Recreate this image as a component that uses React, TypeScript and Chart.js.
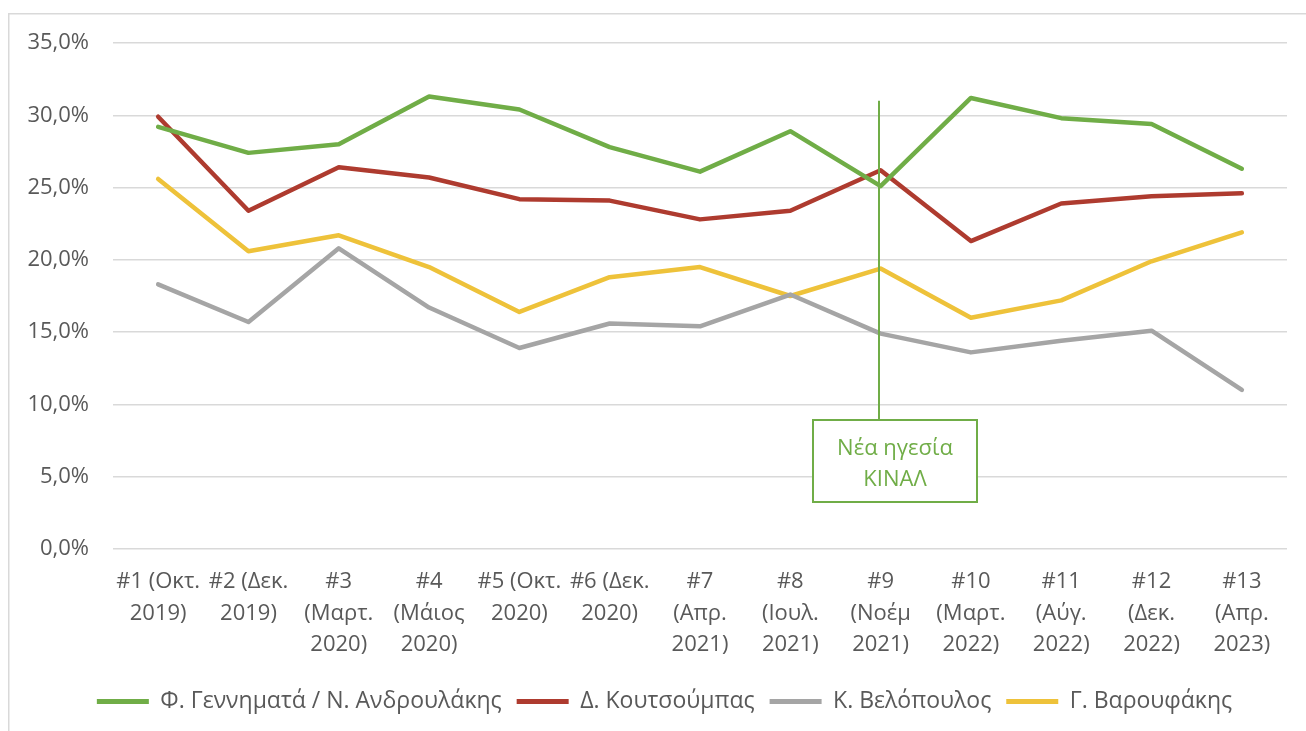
import React, { useEffect, useRef } from "react";
import { Chart, registerables } from "chart.js";

Chart.register(...registerables);

const categories: string[][] = [
  ["#1 (Οκτ.", "2019)"],
  ["#2 (Δεκ.", "2019)"],
  ["#3", "(Μαρτ.", "2020)"],
  ["#4", "(Μάιος", "2020)"],
  ["#5 (Οκτ.", "2020)"],
  ["#6 (Δεκ.", "2020)"],
  ["#7", "(Απρ.", "2021)"],
  ["#8", "(Ιουλ.", "2021)"],
  ["#9", "(Νοέμ", "2021)"],
  ["#10", "(Μαρτ.", "2022)"],
  ["#11", "(Αύγ.", "2022)"],
  ["#12", "(Δεκ.", "2022)"],
  ["#13", "(Απρ.", "2023)"],
];

const gennimataAndroulakis = [29.2, 27.4, 28.0, 31.3, 30.4, 27.8, 26.1, 28.9, 25.1, 31.2, 29.8, 29.4, 26.3];
const koutsoumpas = [29.9, 23.4, 26.4, 25.7, 24.2, 24.1, 22.8, 23.4, 26.2, 21.3, 23.9, 24.4, 24.6];
const velopoulos = [18.3, 15.7, 20.8, 16.7, 13.9, 15.6, 15.4, 17.6, 14.9, 13.6, 14.4, 15.1, 11.0];
const varoufakis = [25.6, 20.6, 21.7, 19.5, 16.4, 18.8, 19.5, 17.5, 19.4, 16.0, 17.2, 19.9, 21.9];

const seriesNames = [
  "Φ. Γεννηματά / Ν. Ανδρουλάκης",
  "Δ. Κουτσούμπας",
  "Κ. Βελόπουλος",
  "Γ. Βαρουφάκης",
];
const seriesColors = ["#70ad47", "#ae3b2f", "#a5a5a5", "#eec23a"];

const annotationIndex = 8;
const annotationTop = 31.0;
const annotationLines = ["Νέα ηγεσία", "ΚΙΝΑΛ"];

const FONT = "'Open Sans', 'Noto Sans', sans-serif";
const TEXT = "#595959";

export default function App() {
  const ref = useRef<HTMLCanvasElement | null>(null);

  useEffect(() => {
    if (!ref.current) return;
    const values = [gennimataAndroulakis, koutsoumpas, velopoulos, varoufakis];

    const borderPlugin = {
      id: "outerBorder",
      afterLayout(chart: any) {
        if (chart.legend) chart.legend.left += 42;
      },
      beforeDraw(chart: any) {
        const ctx = chart.ctx;
        ctx.save();
        ctx.fillStyle = "#ffffff";
        ctx.fillRect(0, 0, chart.width, chart.height);
        ctx.strokeStyle = "#d9d9d9";
        ctx.lineWidth = 1.5;
        ctx.beginPath();
        ctx.moveTo(8.75, chart.height);
        ctx.lineTo(8.75, 13.75);
        ctx.lineTo(chart.width, 13.75);
        ctx.stroke();
        ctx.restore();
      },
    };

    const annotationPlugin = {
      id: "leaderAnnotation",
      afterDatasetsDraw(chart: any) {
        const ctx = chart.ctx;
        const xs = chart.scales.x;
        const ys = chart.scales.y;
        const x = Math.round(xs.getPixelForValue(annotationIndex)) - 2;
        const yTop = ys.getPixelForValue(annotationTop);
        const boxTop = 420;
        const boxBottom = 502;
        const boxLeft = x - 66;
        const boxRight = x + 98;
        ctx.save();
        ctx.strokeStyle = "#70ad47";
        ctx.lineWidth = 2;
        ctx.beginPath();
        ctx.moveTo(x, yTop);
        ctx.lineTo(x, boxTop);
        ctx.stroke();
        ctx.fillStyle = "#ffffff";
        ctx.fillRect(boxLeft, boxTop, boxRight - boxLeft, boxBottom - boxTop);
        ctx.strokeRect(boxLeft, boxTop, boxRight - boxLeft, boxBottom - boxTop);
        ctx.fillStyle = "#70ad47";
        ctx.font = `22px ${FONT}`;
        ctx.textAlign = "center";
        ctx.textBaseline = "middle";
        const cx = (boxLeft + boxRight) / 2;
        ctx.fillText(annotationLines[0], cx, 449);
        ctx.fillText(annotationLines[1], cx, 480);
        ctx.restore();
      },
    };

    const chart = new Chart(ref.current, {
      type: "line",
      data: {
        labels: categories,
        datasets: values.map((v, i) => ({
          label: seriesNames[i],
          data: v,
          borderColor: seriesColors[i],
          backgroundColor: seriesColors[i],
          borderWidth: 4.5,
          borderCapStyle: "round" as const,
          borderJoinStyle: "round" as const,
          pointRadius: 0,
          pointHoverRadius: 0,
          tension: 0,
          fill: false,
        })),
      },
      options: {
        responsive: false,
        animation: false,
        devicePixelRatio: 1,
        layout: { padding: { left: 0, right: 19, top: 43, bottom: 8 } },
        scales: {
          x: {
            offset: true,
            grid: { display: false, drawTicks: false, offset: true },
            border: { display: false },
            ticks: {
              autoSkip: false,
              maxRotation: 0,
              minRotation: 0,
              padding: 17,
              color: TEXT,
              font: { family: FONT, size: 22, lineHeight: "31.5px" as any },
            },
            afterFit(scale: any) {
              scale.height = 126;
            },
          },
          y: {
            min: 0,
            max: 35,
            grid: { color: "#d9d9d9", lineWidth: 1.5, drawTicks: false },
            border: { display: false },
            ticks: {
              stepSize: 5,
              padding: 24,
              color: TEXT,
              font: { family: FONT, size: 22 },
              callback: (v: any) => Number(v).toFixed(1).replace(".", ",") + "%",
            },
            afterFit(scale: any) {
              scale.width = 113;
            },
          },
        },
        plugins: {
          tooltip: { enabled: false },
          legend: {
            position: "bottom",
            labels: {
              color: TEXT,
              font: { family: FONT, size: 23 },
              boxWidth: 52,
              boxHeight: 5,
              padding: 15,
              generateLabels(chart: any) {
                const items = Chart.defaults.plugins.legend.labels.generateLabels(chart);
                return items.map((it: any) => ({ ...it, lineWidth: 0, fillStyle: it.strokeStyle }));
              },
            },
          },
        },
      },
      plugins: [borderPlugin, annotationPlugin],
    } as any);

    return () => chart.destroy();
  }, []);

  return (
    <div style={{ position: "absolute", left: 0, top: 0, width: 1306, height: 731 }}>
      <canvas ref={ref} width={1306} height={731} />
    </div>
  );
}
